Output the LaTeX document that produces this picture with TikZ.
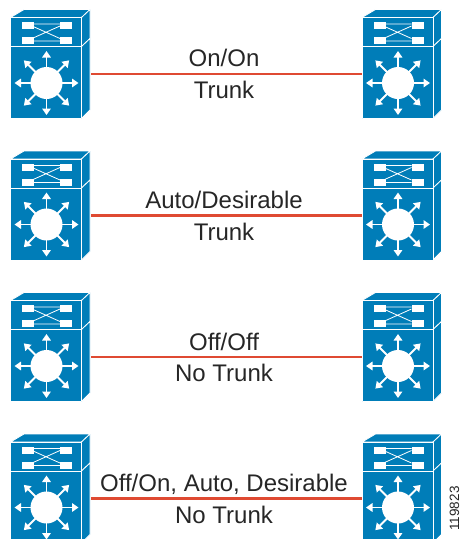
\documentclass[tikz,border=0pt]{standalone}
\usepackage{fontspec}
\usetikzlibrary{arrows.meta}
\setmainfont{Liberation Sans}
\definecolor{swblue}{HTML}{007DB8}
\definecolor{linkred}{HTML}{DF4A32}
\tikzset{
  x=1pt,y=-1pt,
  swfill/.style={fill=swblue,draw=white,line width=0.8pt,line join=round},
  wline/.style={draw=white,line width=0.8pt},
  warrow/.style={draw=white,line width=1.8pt,-{Triangle[width=8.5pt,length=6.5pt]}},
  link/.style={draw=linkred,line width=2.4pt},
  lbl/.style={font=\fontsize{24}{28}\selectfont,text=black!85,inner sep=0pt,anchor=base},
  switchicon/.pic={
    \path[swfill] (10.5,17.5) -- (24,9.5) -- (90,9.5) -- (81.5,17.5) -- cycle;
    \path[swfill] (81.5,17.5) -- (90,9.5) -- (90,38.5) -- (81.5,46.5) -- cycle;
    \path[swfill] (81.5,46.5) -- (90,38.5) -- (90,110) -- (81.5,118.5) -- cycle;
    \path[swfill] (10.5,17.5) rectangle (81.5,46.5);
    \path[swfill] (10.5,46.5) rectangle (81.5,118.5);
    \draw[wline] (32,26) -- (60,38.5) (32,38.5) -- (60,26) (32,24) -- (60,24) (32,41) -- (60,41);
    \fill[white] (22,22) rectangle (34,29);
    \fill[white] (60,22) rectangle (72,29);
    \fill[white] (22,37) rectangle (34,44);
    \fill[white] (60,37) rectangle (72,44);
    \fill[white] (46.5,83) circle (16);
    \foreach \a in {0,45,...,315}{
      \draw[warrow] (46.5,83) ++(\a:14) -- ++(\a:18);
    }
    \coordinate (-portr) at (91,74);
    \coordinate (-portl) at (10,74);
  }
}
\begin{document}
\begin{tikzpicture}
\useasboundingbox (0,0) rectangle (461,539);
\foreach \n/\dy in {1/0,2/141.5,3/283,4/424.5}{
  \pic (l\n) at (0,\dy) {switchicon};
  \pic (r\n) at (351.5,\dy) {switchicon};
  \draw[link] (l\n-portr) -- (r\n-portl);
}
\node[lbl] (a1) at (224,66.5) {On/On};
\node[lbl] (b1) at (224,98) {Trunk};
\node[lbl] (a2) at (224,208.5) {Auto/Desirable};
\node[lbl] (b2) at (224,240) {Trunk};
\node[lbl] (a3) at (224,350) {Off/Off};
\node[lbl] (b3) at (224,381.5) {No Trunk};
\node[lbl] (a4) at (224,491) {Off/On, Auto, Desirable};
\node[lbl] (b4) at (224,523) {No Trunk};
\node[font=\fontsize{13.5}{15}\selectfont,text=black!85,inner sep=0pt,rotate=90,anchor=base] (id) at (459,508.5) {119823};
\end{tikzpicture}
\end{document}
